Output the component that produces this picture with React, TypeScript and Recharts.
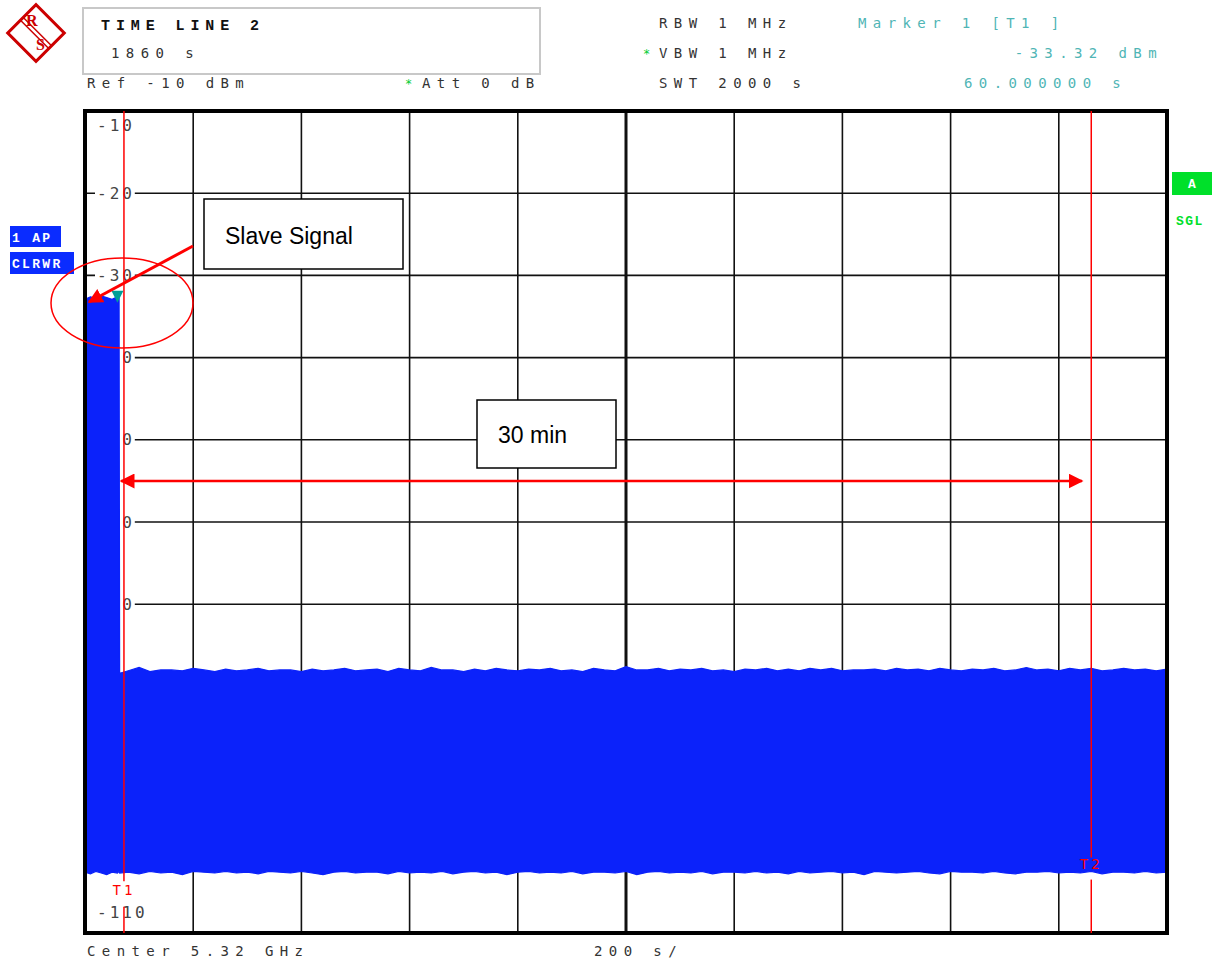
import { ComposedChart, Area, XAxis, YAxis, CartesianGrid, ReferenceLine, ReferenceArea, ReferenceDot } from 'recharts';

const timeS = [
  0, 10, 20, 30, 40, 50, 60, 63, 64,
  80, 100, 120, 140, 160, 180, 200, 220, 240, 260, 280, 300, 320, 340, 360, 380, 400, 420, 440, 460, 480,
  500, 520, 540, 560, 580, 600, 620, 640, 660, 680, 700, 720, 740, 760, 780, 800, 820, 840, 860, 880,
  900, 920, 940, 960, 980, 1000, 1020, 1040, 1060, 1080, 1100, 1120, 1140, 1160, 1180, 1200, 1220, 1240, 1260, 1280,
  1300, 1320, 1340, 1360, 1380, 1400, 1420, 1440, 1460, 1480, 1500, 1520, 1540, 1560, 1580, 1600, 1620, 1640, 1660, 1680,
  1700, 1720, 1740, 1760, 1780, 1800, 1820, 1840, 1860, 1880, 1900, 1920, 1940, 1960, 1980, 2000,
];

const peakDbm = [
  -32.9, -32.6, -32.8, -32.5, -32.7, -32.9, -32.6, -32.8, -78.4,
  -78.1, -77.7, -78.2, -78.0, -78.0, -78.1, -77.8, -78.0, -78.2, -77.9,
  -78.1, -78.0, -77.8, -78.1, -78.0, -78.0, -78.2, -77.9, -78.1, -78.0,
  -77.8, -78.1, -78.0, -77.9, -78.2, -77.8, -78.0, -78.1, -77.7, -78.0,
  -78.0, -78.2, -77.9, -78.1, -77.8, -78.0, -78.1, -77.9, -78.0, -77.8,
  -78.1, -78.0, -78.2, -77.8, -78.0, -78.1, -77.6, -78.0, -78.0, -77.8,
  -78.1, -77.9, -78.0, -77.8, -78.1, -78.0, -78.2, -77.9, -78.0, -77.8,
  -78.1, -77.9, -78.1, -77.8, -78.0, -77.8, -78.1, -78.0, -78.0, -77.9,
  -78.1, -77.8, -78.0, -77.9, -78.1, -77.8, -78.0, -78.1, -77.9, -78.0,
  -77.8, -78.1, -78.0, -77.7, -78.0, -77.9, -78.1, -77.8, -78.0, -77.8,
  -78.1, -78.0, -77.8, -78.0, -77.9, -78.1, -77.9,
];

const floorDbm = [
  -102.6, -102.8, -102.5, -102.7, -102.9, -102.6, -102.7, -102.5, -102.7,
  -102.6, -102.8, -102.5, -102.7, -102.6, -102.9, -102.5, -102.6, -102.7, -102.5,
  -102.7, -102.6, -102.8, -102.5, -102.6, -102.7, -102.5, -102.7, -102.9, -102.6,
  -102.5, -102.7, -102.6, -102.6, -102.8, -102.5, -102.7, -102.6, -102.7, -102.5,
  -102.8, -102.6, -102.5, -102.7, -102.6, -102.9, -102.6, -102.5, -102.7, -102.6,
  -102.7, -102.5, -102.8, -102.6, -102.6, -102.7, -102.5, -102.9, -102.6, -102.5,
  -102.7, -102.6, -102.7, -102.5, -102.8, -102.6, -102.6, -102.7, -102.5, -102.7,
  -102.6, -102.8, -102.5, -102.7, -102.6, -102.5, -102.7, -102.6, -102.9, -102.5,
  -102.6, -102.7, -102.6, -102.5, -102.7, -102.8, -102.5, -102.6, -102.6, -102.7,
  -102.5, -102.7, -102.8, -102.6, -102.6, -102.5, -102.7, -102.6, -102.7, -102.5,
  -102.8, -102.6, -102.6, -102.7, -102.5, -102.7, -102.6,
];

const xTicks = [0, 200, 400, 600, 800, 1000, 1200, 1400, 1600, 1800, 2000];
const yTicks = [-10, -20, -30, -40, -50, -60, -70, -80, -90, -100, -110];

const markerTime = 60;
const markerLevel = -33.32;
const timeLine1 = 72;
const timeLine2 = 1860;

const traceData = timeS.map((t, i) => ({ t, band: [floorDbm[i], peakDbm[i]] }));

const PLOT = { left: 85, top: 111, right: 1167, bottom: 933 };
const W = 1224;
const H = 962;
const MARGIN = { top: PLOT.top, left: PLOT.left, right: W - PLOT.right, bottom: H - PLOT.bottom };
const BLUE = '#0b22fa';
const RED = '#ff0000';
const TEAL = '#4fb5b5';
const GREY = '#333';
const MONO = '"DejaVu Sans Mono", monospace';
const layer = { position: 'absolute', left: 0, top: 0 } as const;

const YTick = (props: any) => {
  const { y, payload } = props;
  const v = payload.value;
  const dy = v === -10 ? 14 : v === -110 ? -21 : 0;
  const label = String(v);
  return (
    <g>
      <rect x={PLOT.left + 10} y={y + dy - 8} width={label.length * 12.6 + 2} height={16} fill="#fff" />
      <text x={PLOT.left + 12} y={y + dy} dominantBaseline="central" fontFamily={MONO} fontSize={16} letterSpacing={3} fill="#444">
        {label}
      </text>
    </g>
  );
};

const MarkerTriangle = (props: any) => {
  const { cx, cy } = props;
  return <polygon points={`${cx - 6},${cy - 12} ${cx + 6},${cy - 12} ${cx},${cy}`} fill="#009e96" />;
};

const hdr = { fontFamily: MONO, fontSize: 14, letterSpacing: 6.4, fill: GREY } as const;

const Overlay = () => (
  <svg width={W} height={H} style={{ ...layer, pointerEvents: 'none' }}>
    <defs>
      <marker id="head" viewBox="0 0 10 10" refX="9" refY="5" markerWidth="15" markerHeight="15" markerUnits="userSpaceOnUse" orient="auto-start-reverse">
        <path d="M0,0 L10,5 L0,10 z" fill={RED} />
      </marker>
    </defs>

    {/* R&S logo */}
    <g transform="translate(36,33) rotate(45)">
      <rect x={-20} y={-20} width={40} height={40} fill="none" stroke="#cc0000" strokeWidth={3} />
      <line x1={-20} y1={-2} x2={20} y2={-2} stroke="#cc0000" strokeWidth={1.5} />
      <line x1={-20} y1={2} x2={20} y2={2} stroke="#cc0000" strokeWidth={1.5} />
    </g>
    <text x={26} y={26} fontFamily="Liberation Serif" fontSize={16} fontWeight="bold" fill="#cc0000">R</text>
    <text x={36} y={50} fontFamily="Liberation Serif" fontSize={16} fontWeight="bold" fill="#cc0000">S</text>

    {/* header */}
    <rect x={83} y={8} width={457} height={66} fill="none" stroke="#c8c8c8" strokeWidth={2} />
    <text x={101} y={30} fontFamily='"Liberation Mono", monospace' fontSize={15} fontWeight="bold" letterSpacing={5.9} fill="#111">TIME LINE 2</text>
    <text x={111} y={58} {...hdr}>1860 s</text>
    <text x={87} y={88} {...hdr}>Ref -10 dBm</text>
    <text x={405} y={88} fontFamily={MONO} fontSize={12} fill="#00cc33">*</text>
    <text x={422} y={88} {...hdr}>Att  0 dB</text>

    <text x={659} y={28} {...hdr}>RBW 1 MHz</text>
    <text x={643} y={58} fontFamily={MONO} fontSize={12} fill="#00cc33">*</text>
    <text x={659} y={58} {...hdr}>VBW 1 MHz</text>
    <text x={659} y={88} {...hdr}>SWT 2000 s</text>

    <text x={858} y={28} {...hdr} fill={TEAL}>Marker 1 [T1 ]</text>
    <text x={1163} y={58} {...hdr} fill={TEAL} textAnchor="end">-33.32 dBm</text>
    <text x={964} y={88} {...hdr} fill={TEAL}>60.000000 s</text>

    {/* trace labels */}
    <rect x={10} y={226} width={51} height={21} fill="#0a2cff" />
    <text x={12} y={242} fontFamily='"Liberation Mono", monospace' fontSize={13} fontWeight="bold" letterSpacing={2.3} fill="#fff">1 AP</text>
    <rect x={10} y={252} width={64} height={22} fill="#0a2cff" />
    <text x={12} y={268} fontFamily='"Liberation Mono", monospace' fontSize={13} fontWeight="bold" letterSpacing={2.3} fill="#fff">CLRWR</text>

    <rect x={1172} y={172} width={40} height={23} fill="#00e02a" />
    <text x={1192} y={188} textAnchor="middle" fontFamily='"Liberation Mono", monospace' fontSize={13} fontWeight="bold" fill="#fff">A</text>
    <text x={1176} y={225} fontFamily='"Liberation Mono", monospace' fontSize={13} fontWeight="bold" letterSpacing={1.5} fill="#00e02a">SGL</text>

    {/* footer */}
    <text x={87} y={956} {...hdr}>Center 5.32 GHz</text>
    <text x={594} y={956} {...hdr}>200 s/</text>

    {/* annotations */}
    <ellipse cx={122} cy={303} rx={71} ry={45} fill="none" stroke={RED} strokeWidth={1.5} />
    <line x1={193} y1={246} x2={89} y2={302} stroke={RED} strokeWidth={3} markerEnd="url(#head)" />
    <rect x={204} y={199} width={199} height={70} fill="#fff" stroke="#000" strokeWidth={1.5} />
    <text x={225} y={244} fontFamily='"Liberation Sans", Arial, sans-serif' fontSize={23} fill="#000">Slave Signal</text>

    <line x1={121} y1={481} x2={1082} y2={481} stroke={RED} strokeWidth={2.5} markerStart="url(#head)" markerEnd="url(#head)" />
    <rect x={477} y={400} width={139} height={68} fill="#fff" stroke="#000" strokeWidth={1.5} />
    <text x={498} y={443} fontFamily='"Liberation Sans", Arial, sans-serif' fontSize={23} fill="#000">30 min</text>
  </svg>
);

export default function App() {
  return (
    <div style={{ ...layer, width: W, height: H, background: '#fff' }}>
      {/* back layer: graticule and level labels, which the trace covers */}
      <div style={layer}>
        <ComposedChart width={W} height={H} data={traceData} margin={MARGIN}>
          <XAxis dataKey="t" type="number" domain={[0, 2000]} ticks={xTicks} hide />
          <YAxis
            type="number"
            domain={[-110, -10]}
            ticks={yTicks}
            interval={0}
            mirror
            axisLine={false}
            tickLine={false}
            tick={<YTick />}
          />
          <CartesianGrid stroke="#111" strokeWidth={1.6} />
          {/* invisible copy of the trace so this layer gets the same y scale */}
          <Area dataKey="band" type="linear" stroke="none" fill="none" dot={false} activeDot={false} isAnimationActive={false} />
          <ReferenceLine x={1000} stroke="#111" strokeWidth={3} />
        </ComposedChart>
      </div>

      {/* front layer: trace, time lines, marker, frame */}
      <div style={layer}>
        <ComposedChart width={W} height={H} data={traceData} margin={MARGIN}>
          <XAxis dataKey="t" type="number" domain={[0, 2000]} ticks={xTicks} hide />
          <YAxis type="number" domain={[-110, -10]} ticks={yTicks} hide />
          <Area
            dataKey="band"
            type="linear"
            stroke={BLUE}
            strokeWidth={1.2}
            fill={BLUE}
            fillOpacity={1}
            dot={false}
            activeDot={false}
            isAnimationActive={false}
          />
          <ReferenceLine
            segment={[{ x: timeLine1, y: -10 }, { x: timeLine1, y: -103.7 }]}
            stroke={RED}
            strokeWidth={1.5}
            ifOverflow="visible"
            label={{ value: 'T1', position: 'bottom', offset: 4, fill: RED, fontFamily: MONO, fontSize: 14, letterSpacing: 3 }}
          />
          <ReferenceLine segment={[{ x: timeLine1, y: -106.8 }, { x: timeLine1, y: -110 }]} stroke={RED} strokeWidth={1.5} ifOverflow="visible" />
          <ReferenceLine
            segment={[{ x: timeLine2, y: -10 }, { x: timeLine2, y: -100.8 }]}
            stroke={RED}
            strokeWidth={1.5}
            ifOverflow="visible"
            label={{ value: 'T2', position: 'bottom', offset: 2, fill: RED, fontFamily: MONO, fontSize: 14, letterSpacing: 3 }}
          />
          <ReferenceLine segment={[{ x: timeLine2, y: -103.5 }, { x: timeLine2, y: -110 }]} stroke={RED} strokeWidth={1.5} ifOverflow="visible" />
          <ReferenceDot x={markerTime} y={markerLevel} r={0} shape={<MarkerTriangle />} ifOverflow="visible" />
          <ReferenceArea x1={0} x2={2000} y1={-110} y2={-10} fill="none" stroke="#000" strokeWidth={4} ifOverflow="visible" />
        </ComposedChart>
      </div>

      <Overlay />
    </div>
  );
}
